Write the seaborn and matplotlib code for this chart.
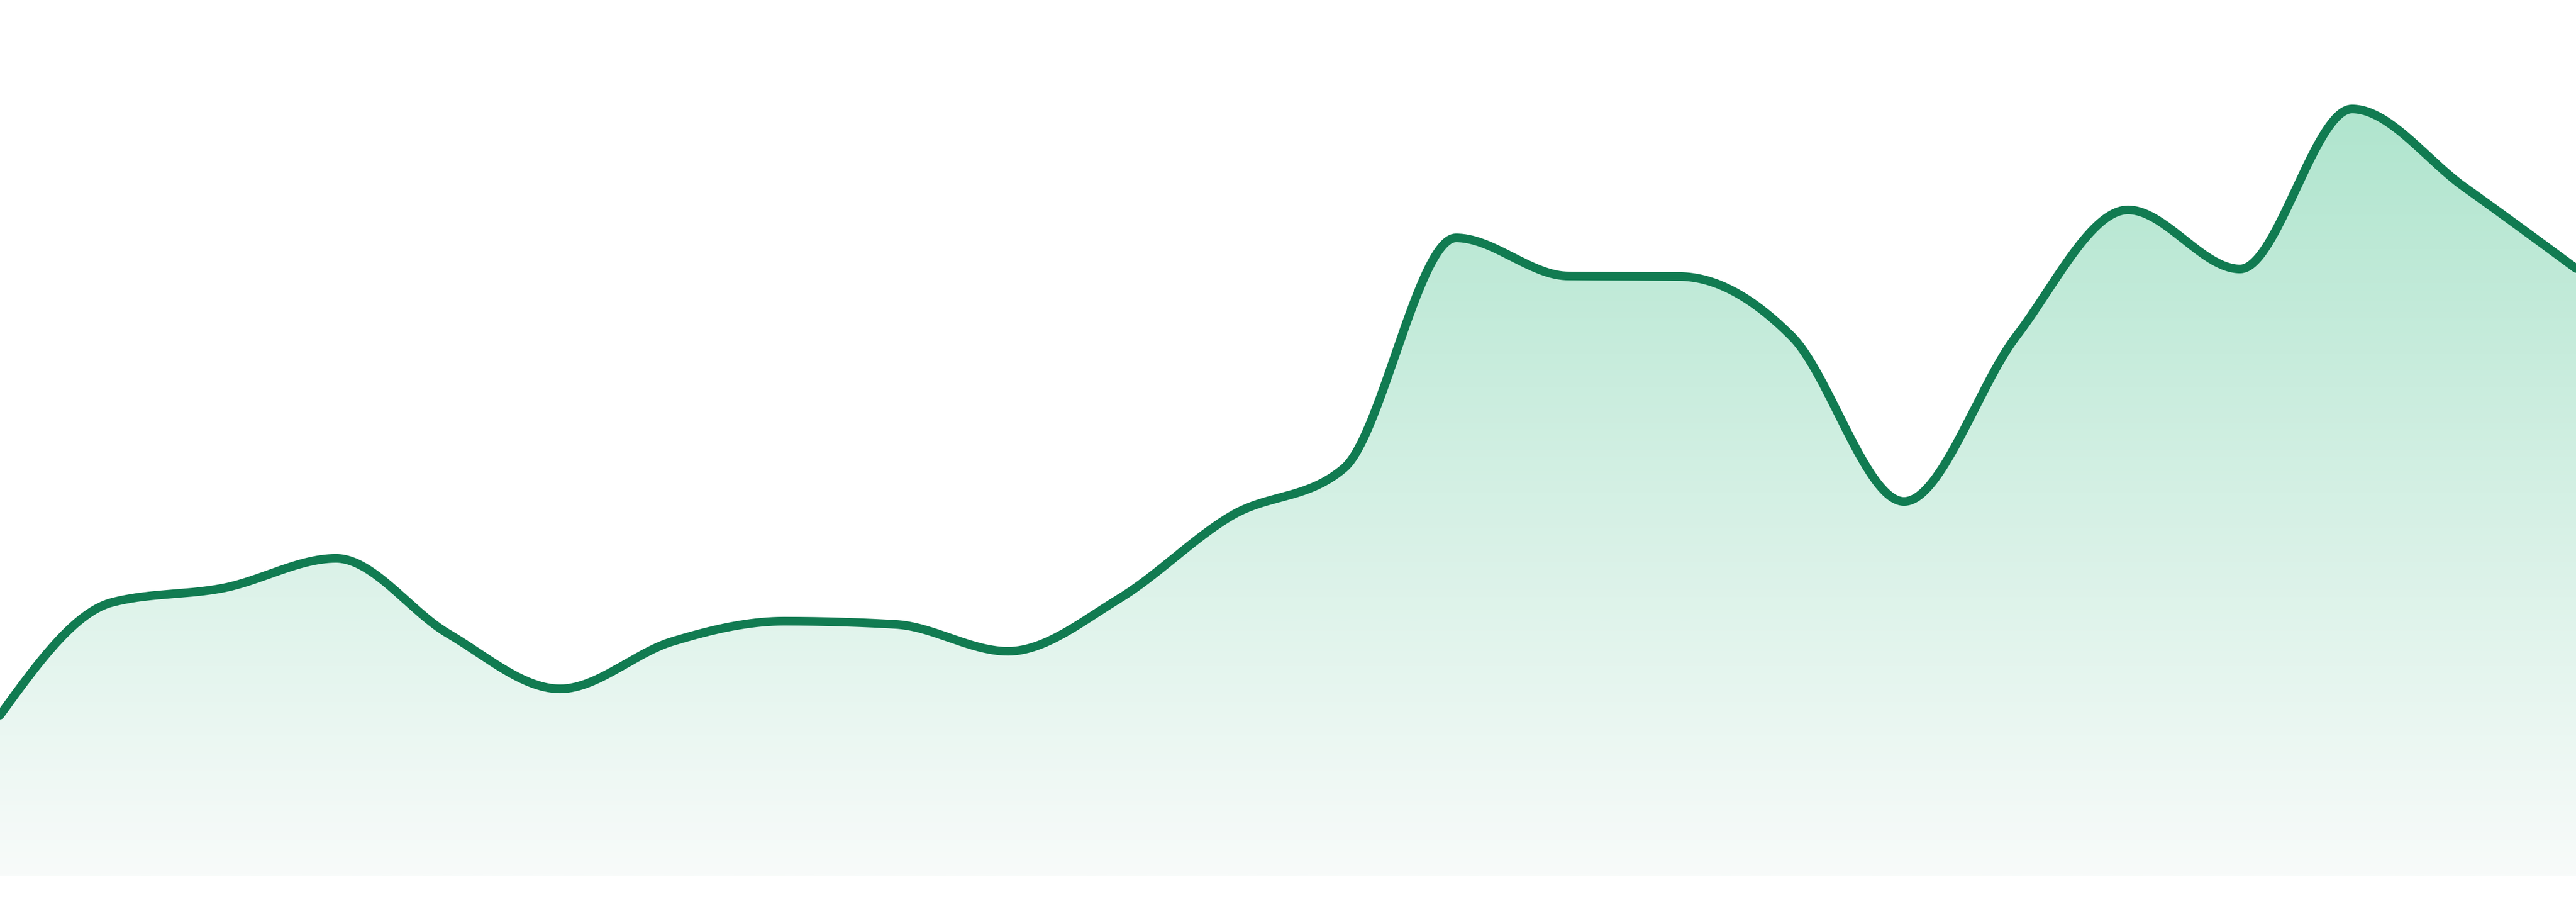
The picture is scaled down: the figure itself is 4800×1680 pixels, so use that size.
import numpy as np
import pandas as pd
import seaborn as sns
import matplotlib.pyplot as plt
from matplotlib.colors import LinearSegmentedColormap
from matplotlib.patches import Polygon


# values (24 evenly spaced points)
points = list(range(24))
values = [30.0, 51.0, 53.7, 59.2, 45.2, 34.9, 43.7, 47.5, 46.9, 41.9, 51.8, 67.2,
          76.0, 118.9, 111.8, 111.7, 100.5, 69.8, 100.5, 124.1, 113.1, 142.9, 128.4, 113.2]

line_color = '#117b51'
fill_top = '#b0e5ce'
fill_bottom = '#f8fbfa'


def monotone_curve(x, y, steps=60):
    # same smoothing as d3 curveMonotoneX
    x = np.asarray(x, dtype=float)
    y = np.asarray(y, dtype=float)
    h = np.diff(x)
    s = np.diff(y) / h
    n = len(x)
    t = np.zeros(n)
    sgn = lambda v: -1.0 if v < 0 else 1.0
    for i in range(1, n - 1):
        p = (s[i - 1] * h[i] + s[i] * h[i - 1]) / (h[i - 1] + h[i])
        t[i] = (sgn(s[i - 1]) + sgn(s[i])) * min(abs(s[i - 1]), abs(s[i]), 0.5 * abs(p))
    t[0] = (3 * s[0] - t[1]) / 2
    t[-1] = (3 * s[-1] - t[-2]) / 2
    xs, ys = [], []
    for i in range(n - 1):
        u = np.linspace(0, 1, steps, endpoint=(i == n - 2))
        h00 = 2 * u**3 - 3 * u**2 + 1
        h10 = u**3 - 2 * u**2 + u
        h01 = -2 * u**3 + 3 * u**2
        h11 = u**3 - u**2
        xs.append(x[i] + u * h[i])
        ys.append(h00 * y[i] + h10 * h[i] * t[i] + h01 * y[i + 1] + h11 * h[i] * t[i + 1])
    return np.concatenate(xs), np.concatenate(ys)


sx, sy = monotone_curve(points, values)
df = pd.DataFrame({'x': sx, 'y': sy})

sns.set_style('white')
fig = plt.figure(figsize=(24, 8.4), dpi=200)
ax = fig.add_axes([0, 48 / 1680, 1, 1632 / 1680])
ax.set_xlim(0, 23)
ax.set_ylim(0, 163.2)
ax.axis('off')

# gradient fill under the curve
cmap = LinearSegmentedColormap.from_list('fade', [fill_bottom, fill_top])
grad = np.linspace(0, 1, 512).reshape(-1, 1)
top = max(values)
img = ax.imshow(grad, cmap=cmap, aspect='auto', origin='lower',
                extent=[0, 23, 0, top], zorder=1)
poly = Polygon(np.column_stack([np.r_[sx, sx[-1], sx[0]], np.r_[sy, 0, 0]]),
               closed=True, facecolor='none', edgecolor='none')
ax.add_patch(poly)
img.set_clip_path(poly)

sns.lineplot(data=df, x='x', y='y', color=line_color, linewidth=5.8,
             ax=ax, zorder=3, solid_capstyle='round', solid_joinstyle='round')

ax.set_xlim(0, 23)
ax.set_ylim(0, 163.2)

fig.savefig('out.png', dpi=200, facecolor='white')
